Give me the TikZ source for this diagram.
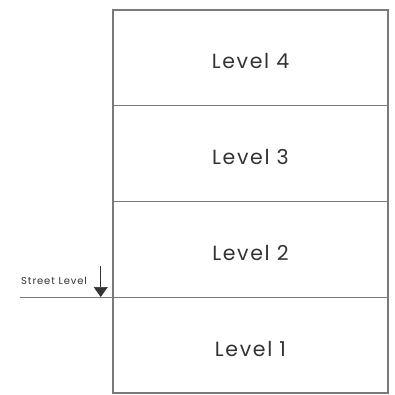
\documentclass[tikz,border=0pt]{standalone}
\usepackage{fontspec}
\setmainfont{Poppins}
\newfontfamily\lvlfont[LetterSpace=8]{Poppins}
\newfontfamily\streetfont[LetterSpace=9]{Poppins}
\usetikzlibrary{arrows.meta}
\definecolor{linegray}{HTML}{7A7A7A}
\definecolor{textgray}{HTML}{333333}
\begin{document}
\begin{tikzpicture}[x=1pt,y=-1pt,
  level/.style={draw=linegray, line width=1.2pt, minimum width=275pt, minimum height=95.75pt, inner sep=0pt, outer sep=0pt, text=textgray, font=\lvlfont\fontsize{20.5}{24}\selectfont, text height=22pt, text depth=0pt, anchor=north west},
  thin line/.style={draw=linegray, line width=1.2pt}]
\useasboundingbox (0,0) rectangle (395,395);
\node[level] (l4) at (113,10) {Level 4};
\node[level] (l3) at (113,105.75) {Level 3};
\node[level] (l2) at (113,201.5) {Level 2};
\node[level] (l1) at (113,297.25) {Level 1};
\coordinate (sl) at (20,297.25);
\draw[thin line] (sl) -- (l1.north west);
\coordinate (a1) at (100.7,266);
\coordinate (a2) at (100.7,297);
\draw[draw=black!80, line width=0.7pt, -{Triangle[length=10pt,width=14pt]}] (a1) -- (a2);
\node[anchor=base west, inner sep=0pt, text=textgray, font=\streetfont\fontsize{10}{12}\selectfont] (st) at (21,284.5) {Street Level};
\end{tikzpicture}
\end{document}
